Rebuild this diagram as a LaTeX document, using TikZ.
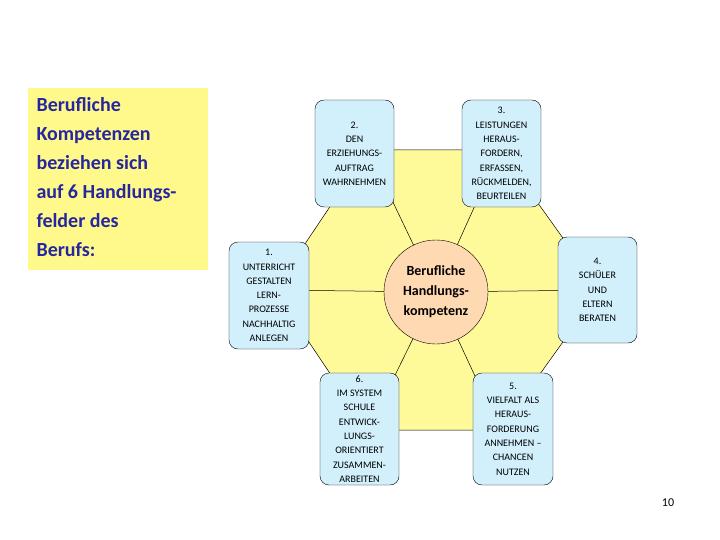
\documentclass[tikz,border=0pt]{standalone}
\usepackage{fontspec}
\setmainfont{Carlito}
\begin{document}
\begin{tikzpicture}[x=1pt,y=-1pt,
  fbox/.style={draw=black,fill=cyan!18,rounded corners=9pt,align=center,inner sep=0pt,
    font=\fontsize{10}{14.3}\selectfont},
  spoke/.style={draw=black,line width=0.5pt}]
\useasboundingbox (0,0) rectangle (720,540);
% left text
\node[fill=yellow!45,minimum width=180pt,minimum height=182pt,anchor=north west,inner sep=0pt] (lt) at (28,88) {};
\node[anchor=north west,align=left,text=blue!55!black!85,font=\fontsize{20}{29}\selectfont\bfseries] (ltx) at (33,94)
 {Berufliche\\Kompetenzen\\beziehen sich\\auf 6 Handlungs-\\felder des\\Berufs:};
% hexagon
\coordinate (c) at (436,292);
\coordinate (v1) at (368,150);
\coordinate (v2) at (500,150);
\coordinate (v3) at (600,290);
\coordinate (v4) at (500,430);
\coordinate (v5) at (368,430);
\coordinate (v6) at (274,290);
\filldraw[fill=yellow!40,draw=black,line width=0.5pt] (v1)--(v2)--(v3)--(v4)--(v5)--(v6)--cycle;
\foreach \v in {v1,v2,v3,v4,v5,v6} \draw[spoke] (c)--(\v);
\node[circle,draw=black,fill=orange!30,minimum size=104pt,align=center,inner sep=0pt,
  font=\fontsize{14}{20}\selectfont\bfseries] (cc) at (c) {Berufliche\\Handlungs-\\kompetenz};
% boxes
\node[fbox,minimum width=79pt,minimum height=107pt] (b2) at (354.5,153.5) {2.\\DEN\\ERZIEHUNGS-\\AUFTRAG\\WAHRNEHMEN};
\node[fbox,minimum width=79pt,minimum height=107pt] (b3) at (501.5,153.5) {3.\\LEISTUNGEN\\HERAUS-\\FORDERN,\\ERFASSEN,\\RÜCKMELDEN,\\BEURTEILEN};
\node[fbox,minimum width=80pt,minimum height=107pt] (b1) at (269,295.5) {1.\\UNTERRICHT\\GESTALTEN\\LERN-\\PROZESSE\\NACHHALTIG\\ANLEGEN};
\node[fbox,minimum width=79pt,minimum height=106pt] (b4) at (597.5,290) {4.\\SCHÜLER\\UND\\ELTERN\\BERATEN};
\node[fbox,minimum width=79pt,minimum height=112pt] (b6) at (359.5,429) {6.\\IM SYSTEM\\SCHULE\\ENTWICK-\\LUNGS-\\ORIENTIERT\\ZUSAMMEN-\\ARBEITEN};
\node[fbox,minimum width=80pt,minimum height=112pt] (b5) at (513,429) {5.\\VIELFALT ALS\\HERAUS-\\FORDERUNG\\ANNEHMEN –\\CHANCEN\\NUTZEN};
\node[font=\fontsize{12}{14}\selectfont] (pg) at (668,503) {10};
\end{tikzpicture}
\end{document}
